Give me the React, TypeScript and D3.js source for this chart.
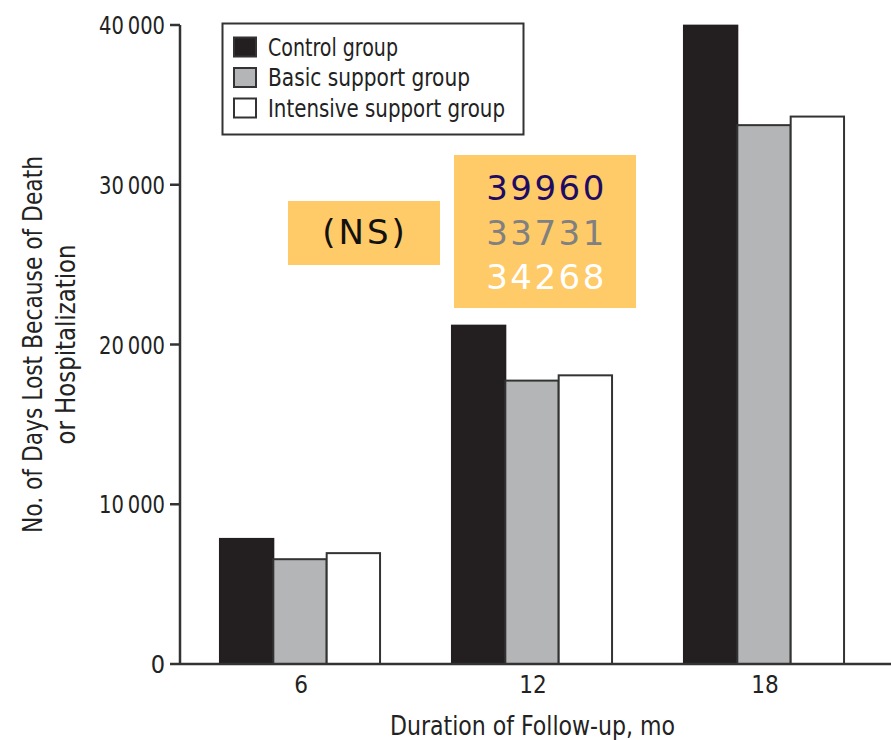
import React from "react";
import * as d3 from "d3";

const durations = ["6", "12", "18"];
const groups = ["Control group", "Basic support group", "Intensive support group"];
const controlValues = [7830, 21180, 39960];
const basicValues = [6560, 17740, 33731];
const intensiveValues = [6940, 18070, 34268];
const yTicks = [0, 10000, 20000, 30000, 40000];
const annotationValues = ["39960", "33731", "34268"];
const nsLabel = "(NS)";

const W = 891;
const H = 740;
const axisColor = "#333333";
const barFills = ["#231f20", "#b4b5b7", "#ffffff"];
const annColors = ["#1e0b63", "#808080", "#ffffff"];
const boxFill = "#ffca68";
const condensed = "'Liberation Sans Narrow', 'DejaVu Sans Condensed', 'Arial Narrow', sans-serif";
const legendWidths = [130, 202, 237];

export default function App() {
  const series = [controlValues, basicValues, intensiveValues];
  const y = d3.scaleLinear().domain([0, 40000]).range([664, 25]);
  const x0 = d3.scaleBand().domain(durations).range([184, 880]).paddingInner(0.31).paddingOuter(0.155);
  const x1 = d3.scaleBand().domain(groups).range([0, x0.bandwidth()]);
  const fmt = d3.formatLocale({ decimal: ".", thousands: "\u2009", grouping: [3], currency: ["", ""] }).format(",d");
  const axisX = 180;

  return (
    <svg width={W} height={H} style={{ position: "absolute", left: 0, top: 0, background: "#fff" }}>
      {durations.map((d, i) => (
        <g key={d} transform={`translate(${x0(d)},0)`}>
          {groups.map((g, j) => (
            <rect
              key={g}
              x={x1(g)}
              y={y(series[j][i])}
              width={x1.bandwidth()}
              height={y(0) - y(series[j][i])}
              fill={barFills[j]}
              stroke={j === 0 ? barFills[0] : axisColor}
              strokeWidth={2}
            />
          ))}
        </g>
      ))}
      <line x1={axisX} x2={axisX} y1={y(40000)} y2={y(0) + 1} stroke={axisColor} strokeWidth={2.5} />
      <line x1={axisX} x2={W} y1={y(0)} y2={y(0)} stroke={axisColor} strokeWidth={2.5} />
      {yTicks.map((t) => (
        <g key={t}>
          <line x1={170} x2={axisX} y1={y(t)} y2={y(t)} stroke={axisColor} strokeWidth={2.5} />
          <text
            x={165}
            y={y(t) + 9}
            textAnchor="end"
            fontFamily={condensed}
            fontSize={25}
            fill="#222"
            {...(t > 0 ? { textLength: 66, lengthAdjust: "spacingAndGlyphs" } : {})}
          >
            {fmt(t)}
          </text>
        </g>
      ))}
      {durations.map((d) => (
        <text key={d} x={(x0(d) as number) + x0.bandwidth() / 2 + 1} y={693} textAnchor="middle" fontFamily={condensed} fontSize={24} fill="#222">
          {d}
        </text>
      ))}
      <text x={532.5} y={735} textAnchor="middle" fontFamily={condensed} fontSize={27} fill="#222" textLength={285} lengthAdjust="spacingAndGlyphs">
        Duration of Follow-up, mo
      </text>
      <g transform={`translate(42, ${(y(0) + y(40000)) / 2}) rotate(-90)`}>
        <text x={0} y={0} textAnchor="middle" fontFamily={condensed} fontSize={27} fill="#222" textLength={377} lengthAdjust="spacingAndGlyphs">
          No. of Days Lost Because of Death
        </text>
      </g>
      <g transform={`translate(75, ${(y(0) + y(40000)) / 2}) rotate(-90)`}>
        <text x={0} y={0} textAnchor="middle" fontFamily={condensed} fontSize={27} fill="#222" textLength={200} lengthAdjust="spacingAndGlyphs">
          or Hospitalization
        </text>
      </g>
      <rect x={222.5} y={23.5} width={301} height={111} fill="#fff" stroke={axisColor} strokeWidth={2} />
      {groups.map((g, j) => (
        <g key={g}>
          <rect x={234} y={37.5 + j * 30.5} width={22} height={19} fill={barFills[j]} stroke={axisColor} strokeWidth={2} />
          <text x={268} y={55.5 + j * 30.5} fontFamily={condensed} fontSize={24} fill="#222" textLength={legendWidths[j]} lengthAdjust="spacingAndGlyphs">
            {g}
          </text>
        </g>
      ))}
      <rect x={288} y={201} width={152} height={64} fill={boxFill} />
      <text x={365} y={244} textAnchor="middle" fontFamily="'DejaVu Sans', Verdana, sans-serif" fontSize={34} fill="#111" letterSpacing={3}>
        {nsLabel}
      </text>
      <rect x={454} y={155} width={182} height={153} fill={boxFill} />
      {annotationValues.map((v, k) => (
        <text key={v} x={546.5} y={200 + k * 44.5} textAnchor="middle" fontFamily="'DejaVu Sans', Verdana, sans-serif" fontSize={34} fill={annColors[k]} letterSpacing={2.5}>
          {v}
        </text>
      ))}
    </svg>
  );
}
